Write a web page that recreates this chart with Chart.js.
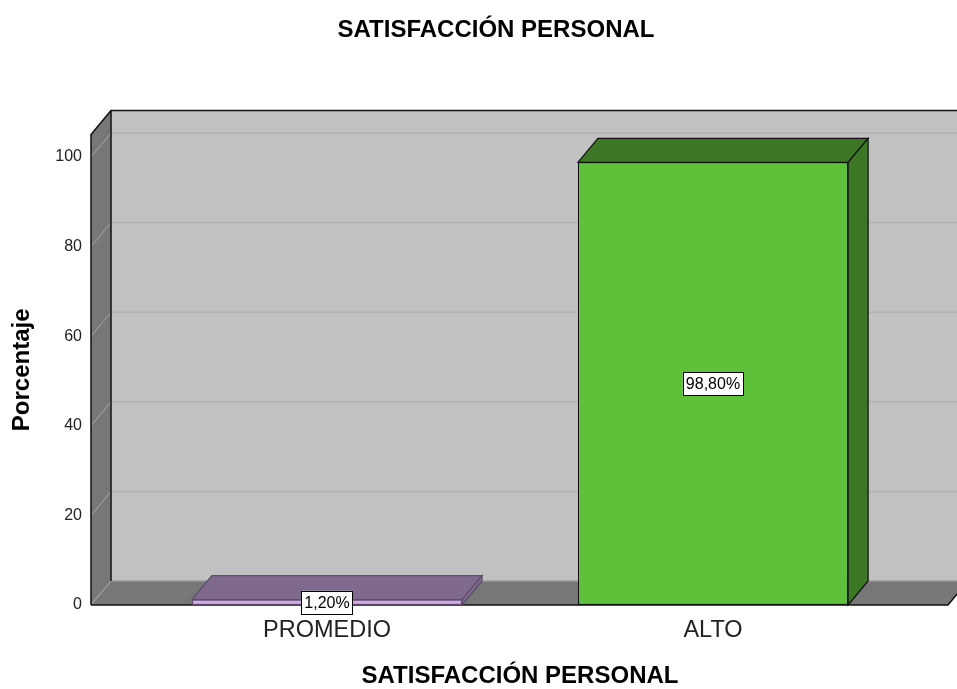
<!DOCTYPE html>
<html>
<head>
<meta charset="utf-8">
<script src="https://cdn.jsdelivr.net/npm/chart.js@4.4.1/dist/chart.umd.min.js"></script>
<style>
html,body{margin:0;padding:0;background:#fff;}
#wrap{width:957px;height:689px;position:relative;}
</style>
</head>
<body>
<div id="wrap"><canvas id="c" width="957" height="689"></canvas></div>
<script>
// ---- data ----
const categories = ['PROMEDIO', 'ALTO'];
const percentages = [1.2, 98.8];
const yTickValues = [0, 20, 40, 60, 80, 100];
const chartTitle = 'SATISFACCIÓN PERSONAL';
const xAxisTitle = 'SATISFACCIÓN PERSONAL';
const yAxisTitle = 'Porcentaje';

// ---- styles ----
const FONT = "Arial, 'Liberation Sans', sans-serif";
const frontColors = ['#d3abe9', '#5dc23a'];
const sideColors = ['#7f6a8d', '#3b7724'];
const edgeColors = ['#5e4d6b', '#111111'];
const DX = 20, DY = 24;

const threeD = {
  id: 'threeD',
  beforeDatasetsDraw(chart) {
    const ctx = chart.ctx;
    const a = chart.chartArea;
    const ys = chart.scales.y;
    const L = a.left - 43, R = a.right + 42, B = a.bottom, T = a.top;
    ctx.save();
    // back wall
    ctx.fillStyle = '#c1c1c1';
    ctx.fillRect(L + DX, T - DY, R - L, B - T);
    // left wall
    ctx.fillStyle = '#777777';
    ctx.beginPath();
    ctx.moveTo(L, B); ctx.lineTo(L, T); ctx.lineTo(L + DX, T - DY); ctx.lineTo(L + DX, B - DY); ctx.closePath();
    ctx.fill();
    // floor
    ctx.beginPath();
    ctx.moveTo(L, B); ctx.lineTo(L + DX, B - DY); ctx.lineTo(R + DX, B - DY); ctx.lineTo(R, B); ctx.closePath();
    ctx.fill();
    // grid lines
    ctx.lineWidth = 1.5;
    yTickValues.forEach(v => {
      const y = ys.getPixelForValue(v);
      ctx.strokeStyle = v === 0 ? '#9a9a9a' : '#b2b2b2';
      ctx.beginPath(); ctx.moveTo(L + DX, y - DY); ctx.lineTo(R + DX, y - DY); ctx.stroke();
      ctx.strokeStyle = '#a8a8a8';
      ctx.lineWidth = 1;
      ctx.beginPath(); ctx.moveTo(L, y); ctx.lineTo(L + DX, y - DY); ctx.stroke();
      ctx.lineWidth = 1.5;
    });
    // outlines
    ctx.strokeStyle = '#111';
    ctx.lineWidth = 1.5;
    ctx.beginPath();
    ctx.moveTo(L, B); ctx.lineTo(L, T); ctx.lineTo(L + DX, T - DY); ctx.lineTo(R + DX, T - DY);
    ctx.stroke();
    ctx.beginPath(); ctx.moveTo(L + DX, T - DY); ctx.lineTo(L + DX, B - DY); ctx.stroke();
    ctx.beginPath(); ctx.moveTo(L, B); ctx.lineTo(R, B); ctx.lineTo(R + DX, B - DY); ctx.stroke();

    // bar top / side faces
    const meta = chart.getDatasetMeta(0);
    meta.data.forEach((el, i) => {
      const x0 = el.x - el.width / 2, x1 = el.x + el.width / 2;
      const yt = el.y, yb = el.base;
      ctx.fillStyle = sideColors[i];
      ctx.strokeStyle = edgeColors[i];
      ctx.lineWidth = 1.2;
      ctx.beginPath();
      ctx.moveTo(x0, yt); ctx.lineTo(x0 + DX, yt - DY); ctx.lineTo(x1 + DX, yt - DY); ctx.lineTo(x1, yt); ctx.closePath();
      ctx.fill(); ctx.stroke();
      ctx.beginPath();
      ctx.moveTo(x1, yt); ctx.lineTo(x1 + DX, yt - DY); ctx.lineTo(x1 + DX, yb - DY); ctx.lineTo(x1, yb); ctx.closePath();
      ctx.fill(); ctx.stroke();
    });
    ctx.restore();
  },
  afterDatasetsDraw(chart) {
    const ctx = chart.ctx;
    const meta = chart.getDatasetMeta(0);
    ctx.save();
    ctx.font = '16px ' + FONT;
    ctx.textAlign = 'center';
    ctx.textBaseline = 'middle';
    meta.data.forEach((el, i) => {
      const txt = percentages[i].toFixed(2).replace('.', ',') + '%';
      const w = ctx.measureText(txt).width + 6;
      const h = 23;
      const cy = (el.y + el.base) / 2;
      ctx.fillStyle = '#fff';
      ctx.fillRect(el.x - w / 2, cy - h / 2, w, h);
      ctx.strokeStyle = '#000';
      ctx.lineWidth = 1;
      ctx.strokeRect(Math.round(el.x - w / 2) + 0.5, Math.round(cy - h / 2) + 0.5, Math.round(w), h);
      ctx.fillStyle = '#000';
      ctx.fillText(txt, el.x, cy + 1);
    });
    ctx.restore();
  },
  afterDraw(chart) {
    const ctx = chart.ctx;
    ctx.save();
    ctx.font = 'bold 24px ' + FONT;
    ctx.fillStyle = '#000';
    ctx.textAlign = 'center';
    ctx.textBaseline = 'middle';
    ctx.fillText(chartTitle, 496, 30);
    ctx.restore();
  }
};

new Chart(document.getElementById('c'), {
  type: 'bar',
  data: {
    labels: categories,
    datasets: [{
      data: percentages,
      backgroundColor: frontColors,
      borderColor: edgeColors,
      borderWidth: 1.2,
      borderSkipped: false,
      categoryPercentage: 1,
      barPercentage: 0.7
    }]
  },
  options: {
    responsive: false,
    animation: false,
    events: [],
    layout: { padding: { top: 134.6, right: 51, bottom: 0, left: 0 } },
    plugins: { legend: { display: false }, tooltip: { enabled: false }, title: { display: false } },
    scales: {
      x: {
        grid: { display: false, drawTicks: false },
        border: { display: false },
        ticks: { color: '#222', font: { family: FONT, size: 23.5 }, padding: 11 },
        title: { display: true, text: xAxisTitle, color: '#000', font: { family: FONT, size: 24, weight: 'bold' }, padding: { top: 9, bottom: -2 } },
        afterFit(scale) { scale.height = 84; }
      },
      y: {
        min: 0,
        max: 105,
        grid: { display: false, drawTicks: false },
        border: { display: false },
        ticks: { stepSize: 20, color: '#222', font: { family: FONT, size: 16 }, padding: 52 },
        afterBuildTicks(scale) { scale.ticks = yTickValues.map(v => ({ value: v })); },
        title: { display: true, text: yAxisTitle, color: '#000', font: { family: FONT, size: 24, weight: 'bold' }, padding: { top: 8, bottom: 0 } },
        afterFit(scale) { scale.width = 134; }
      }
    }
  },
  plugins: [threeD]
});
</script>
</body>
</html>
